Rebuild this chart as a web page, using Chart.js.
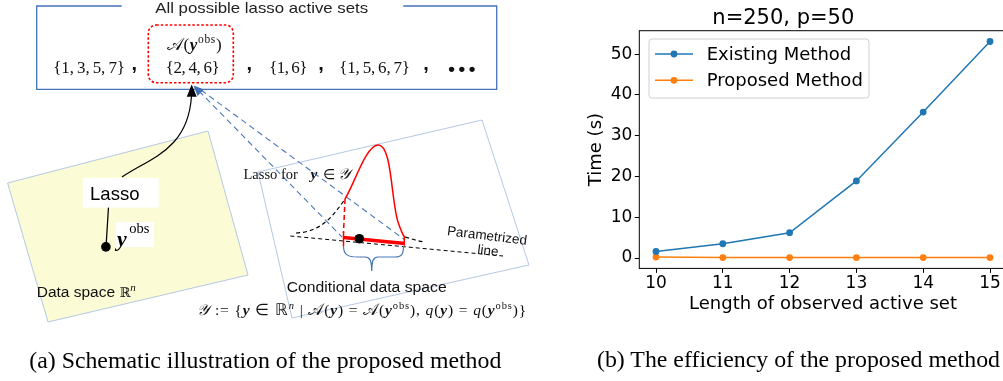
<!DOCTYPE html>
<html><head><meta charset="utf-8">
<script src="https://cdn.jsdelivr.net/npm/chart.js@4.4.0/dist/chart.umd.min.js"></script>
<style>
html,body{margin:0;padding:0;background:#fff;}
body{width:1003px;height:381px;overflow:hidden;position:relative;}
#wrap{position:absolute;left:560px;top:0;width:460px;height:320px;z-index:1;}
#schem{position:absolute;left:0;top:0;z-index:2;}
</style></head><body>
<svg id="schem" width="1003" height="381" xmlns="http://www.w3.org/2000/svg">
  <!-- data space (yellow) and conditional data space (white) panels -->
  <polygon points="7.6,183 208,131 248,275 48,322" fill="#fbfbd5" stroke="#b4c8e4" stroke-width="1"/>
  <polygon points="258,172 482,120 529,265 292,318" fill="#ffffff" stroke="#b4c8e4" stroke-width="1"/>

  <!-- top box -->
  <path d="M121.7,6 H36.7 V89.3 H496.7 V6 H403.3" fill="none" stroke="#4472b8" stroke-width="1.3"/>
  <text x="261.7" y="12.5" text-anchor="middle" font-family="Liberation Sans" font-size="15" fill="#222" textLength="213" lengthAdjust="spacingAndGlyphs">All possible lasso active sets</text>
  <rect x="148.3" y="25" width="85" height="57.7" rx="8" fill="none" stroke="#ff0000" stroke-width="1.6" stroke-dasharray="2.5,2"/>
  <text x="166.7" y="49.5" font-family="Liberation Serif" font-size="17" fill="#111" textLength="55" lengthAdjust="spacing">𝒜(<tspan font-weight="bold" font-style="italic">y</tspan><tspan font-size="11.5" dy="-6.5">obs</tspan><tspan dy="6.5">)</tspan></text>
  <g font-family="Liberation Serif" font-size="17" fill="#111">
    <text x="53.3" y="73.3" textLength="71.7" lengthAdjust="spacing">{1,&#8201;3,&#8201;5,&#8201;7}</text>
    <text x="165.7" y="73.3" textLength="54" lengthAdjust="spacing">{2,&#8201;4,&#8201;6}</text>
    <text x="269.3" y="73.3" textLength="38" lengthAdjust="spacing">{1,&#8201;6}</text>
    <text x="339.3" y="73.3" textLength="70.7" lengthAdjust="spacing">{1,&#8201;5,&#8201;6,&#8201;7}</text>
  </g>
  <g font-family="Liberation Sans" font-weight="bold" font-size="20" fill="#111">
    <text x="131.5" y="69.5">,</text>
    <text x="246.5" y="69.5">,</text>
    <text x="318.2" y="69.5">,</text>
    <text x="423.2" y="69.5">,</text>
    <text x="448.3" y="74.6" font-size="19" textLength="27" lengthAdjust="spacing">•••</text>
  </g>

  <!-- lasso arrow -->
  <path d="M106,247 L108.5,207" fill="none" stroke="#000" stroke-width="1.2"/>
  <path d="M122,177 C150,158 188,150 191.5,96" fill="none" stroke="#000" stroke-width="1.2"/>
  <polygon points="191.7,84.5 186.7,96.7 196.7,96.7" fill="#000"/>
  <rect x="82.8" y="178" width="75.8" height="29.6" fill="#fff"/>
  <text x="90" y="200.3" font-family="Liberation Sans" font-size="19" fill="#000" textLength="49.5" lengthAdjust="spacingAndGlyphs">Lasso</text>
  <circle cx="105.9" cy="246.9" r="4.8" fill="#000"/>
  <rect x="116" y="222" width="38" height="25" fill="#fff"/>
  <text x="117" y="246" font-family="Liberation Serif" fill="#000"><tspan font-size="22" font-weight="bold" font-style="italic">y</tspan><tspan font-size="14.5" dy="-13.5" dx="2.5">obs</tspan></text>

  <!-- blue dashed lines -->
  <path d="M199,91 L342,237 M201,90 L405,240" fill="none" stroke="#4a78b8" stroke-width="1.1" stroke-dasharray="6,4"/>
  <polygon points="193.5,85.5 204,89.5 197.5,96" fill="#3f6fb5"/>

  <!-- conditional distribution -->
  <path d="M290.3,236 L503,256" fill="none" stroke="#000" stroke-width="1" stroke-dasharray="4,3"/>
  <path d="M296,233 C320,232 332,218 345,199" fill="none" stroke="#000" stroke-width="1.2" stroke-dasharray="4,3"/>
  <path d="M405,237 C412,239 418,241 424,242" fill="none" stroke="#000" stroke-width="1.2" stroke-dasharray="4,3"/>
  <path d="M345,199 C356,180 366,146 378,145 C392,144 391,200 398,222 C401,231 403,235 405,238" fill="none" stroke="#ff0000" stroke-width="1.5"/>
  <path d="M345,199 L343.5,233" fill="none" stroke="#ff0000" stroke-width="1.5" stroke-dasharray="5,3"/>
  <path d="M343.5,232 L343.5,246 M404.3,236.5 L404.3,245.5" fill="none" stroke="#ff0000" stroke-width="1.5"/>
  <path d="M343.5,237.5 L405,243.5" fill="none" stroke="#ff0000" stroke-width="3.5"/>
  <circle cx="359.3" cy="238.7" r="4.8" fill="#000"/>
  <path d="M343.5,246 C343.5,255 348,257 358,257 L365,257 C370,257 371.5,260 371.7,271 C372,260 373.5,257 378,257 L395,257 C401,257 403.5,255 403.5,246" fill="none" stroke="#4a78b8" stroke-width="1.2"/>

  <g font-family="Liberation Serif" fill="#111">
    <text x="243.5" y="178.5" font-size="14.5">Lasso for</text>
    <text x="310.5" y="178.5" font-size="15.5" font-weight="bold" font-style="italic">y</text>
    <text x="323" y="178.5" font-size="14">∈</text>
    <text x="337.5" y="178.5" font-size="15.5" font-style="italic">𝒴</text>
  </g>
  <g font-family="Liberation Sans" font-size="13.5" fill="#111">
    <text x="487" y="240" text-anchor="middle" transform="rotate(7 487 236)">Parametrized</text>
    <text x="488" y="255" text-anchor="middle" transform="rotate(7 488 251)">line</text>
  </g>
  <text x="286.7" y="291.7" font-family="Liberation Sans" font-size="15.5" fill="#111" textLength="160" lengthAdjust="spacingAndGlyphs">Conditional data space</text>
  <text x="36.7" y="296.7" font-family="Liberation Sans" font-size="15.5" fill="#111">Data space <tspan font-family="DejaVu Serif" font-size="13">ℝ</tspan><tspan font-family="Liberation Serif" font-style="italic" font-size="11" dy="-6">n</tspan></text>
  <text x="197.3" y="315" font-family="Liberation Serif" font-size="15.5" fill="#111" textLength="329" lengthAdjust="spacing"><tspan font-style="italic">𝒴</tspan> := {<tspan font-weight="bold" font-style="italic">y</tspan> ∈ ℝ<tspan font-style="italic" font-size="10.5" dy="-6">n</tspan><tspan dy="6"> | 𝒜(</tspan><tspan font-weight="bold" font-style="italic">y</tspan>) = 𝒜(<tspan font-weight="bold" font-style="italic">y</tspan><tspan font-size="10.5" dy="-6">obs</tspan><tspan dy="6">), </tspan><tspan font-style="italic">q</tspan>(<tspan font-weight="bold" font-style="italic">y</tspan>) = <tspan font-style="italic">q</tspan>(<tspan font-weight="bold" font-style="italic">y</tspan><tspan font-size="10.5" dy="-6">obs</tspan><tspan dy="6">)}</tspan></text>

  <!-- captions -->
  <text x="29.3" y="368" font-family="Liberation Serif" font-size="23.5" fill="#000" textLength="472" lengthAdjust="spacingAndGlyphs">(a) Schematic illustration of the proposed method</text>
  <text x="597" y="367" font-family="Liberation Serif" font-size="23.5" fill="#000" textLength="403" lengthAdjust="spacingAndGlyphs">(b) The efficiency of the proposed method</text>
</svg>
<div id="wrap"><canvas id="c" width="460" height="320" style="width:460px;height:320px"></canvas></div>
<script>
const activeSetLengths = [10, 11, 12, 13, 14, 15];
const existingTimes = [1.6, 3.5, 6.2, 18.9, 35.8, 53.1];
const proposedTimes = [0.25, 0.1, 0.1, 0.1, 0.1, 0.1];
const xTickValues = [10, 11, 12, 13, 14, 15];
const yTickValues = [0, 10, 20, 30, 40, 50];
const seriesNames = ['Existing Method', 'Proposed Method'];
const seriesColors = ['#1f77b4', '#ff7f0e'];
const chartTitle = 'n=250, p=50';
const xLabel = 'Length of observed active set';
const yLabel = 'Time (s)';

const FONT = "'DejaVu Sans', sans-serif";
Chart.defaults.font.family = FONT;
Chart.defaults.color = '#000';

const framePlugin = {
  id: 'frame',
  afterDatasetsDraw(chart) {
    const a = chart.chartArea, ctx = chart.ctx;
    ctx.save();
    ctx.strokeStyle = '#000';
    ctx.lineWidth = 1;
    ctx.strokeRect(a.left, a.top, a.right - a.left, a.bottom - a.top);
    ctx.restore();
  }
};

const legendPlugin = {
  id: 'innerLegend',
  afterDraw(chart) {
    const a = chart.chartArea, ctx = chart.ctx;
    const bx = a.left + 9.7, by = a.top + 8.3, bw = 220, bh = 59;
    ctx.save();
    ctx.beginPath();
    ctx.roundRect(bx, by, bw, bh, 3);
    ctx.fillStyle = 'rgba(255,255,255,0.8)';
    ctx.fill();
    ctx.strokeStyle = '#d0d0d0';
    ctx.lineWidth = 1;
    ctx.stroke();
    ctx.font = '18px ' + FONT;
    ctx.textBaseline = 'middle';
    chart.data.datasets.forEach((ds, i) => {
      const y = by + 15 + i * 26.3;
      ctx.strokeStyle = ds.borderColor;
      ctx.lineWidth = 1.5;
      ctx.beginPath(); ctx.moveTo(bx + 6, y); ctx.lineTo(bx + 44, y); ctx.stroke();
      ctx.fillStyle = ds.borderColor;
      ctx.beginPath(); ctx.arc(bx + 25, y, 3.4, 0, Math.PI * 2); ctx.fill();
      ctx.fillStyle = '#000';
      ctx.fillText(ds.label, bx + 57.7, y + 1);
    });
    ctx.restore();
  }
};

function makeDataset(i, values) {
  return {
    label: seriesNames[i],
    data: activeSetLengths.map((x, k) => ({ x: x, y: values[k] })),
    borderColor: seriesColors[i],
    backgroundColor: seriesColors[i],
    borderWidth: 1.5,
    pointRadius: 3.4,
    pointHoverRadius: 3.4,
    pointBorderWidth: 0,
    tension: 0
  };
}

const axisCommon = {
  grid: { drawOnChartArea: false, drawTicks: true, tickLength: 4.5, tickColor: '#000', tickWidth: 1 },
  border: { display: false }
};

new Chart(document.getElementById('c'), {
  type: 'line',
  data: { datasets: [makeDataset(0, existingTimes), makeDataset(1, proposedTimes)] },
  options: {
    responsive: false,
    animation: false,
    devicePixelRatio: 1,
    layout: { padding: { left: 0, right: 13.3, top: 0, bottom: 0 } },
    plugins: {
      legend: { display: false },
      tooltip: { enabled: false },
      title: { display: true, text: chartTitle, color: '#000',
        font: { size: 21, weight: 'normal', lineHeight: 1.0 }, padding: { top: 8.3, bottom: 1.4 } }
    },
    scales: {
      x: Object.assign({}, axisCommon, {
        type: 'linear', min: 9.75, max: 15.25,
        afterBuildTicks: s => { s.ticks = xTickValues.map(v => ({ value: v })); },
        afterFit: s => { s.height = 51.6; },
        ticks: { padding: 0, font: { size: 17, lineHeight: 1.2 }, color: '#000', maxRotation: 0, autoSkip: false },
        title: { display: true, text: xLabel, color: '#000', font: { size: 18, lineHeight: 1.2 }, padding: { top: 0, bottom: 4.7 } }
      }),
      y: Object.assign({}, axisCommon, {
        type: 'linear', min: -2.55, max: 55.75,
        afterBuildTicks: s => { s.ticks = yTickValues.map(v => ({ value: v })); },
        afterFit: s => { s.width = 79.3; },
        ticks: { padding: 2.5, font: { size: 17 }, color: '#000', autoSkip: false },
        title: { display: true, text: yLabel, color: '#000', font: { size: 18, lineHeight: 1.2 }, padding: { top: 25.2, bottom: 0 } }
      })
    }
  },
  plugins: [framePlugin, legendPlugin]
});
</script>
</body></html>
